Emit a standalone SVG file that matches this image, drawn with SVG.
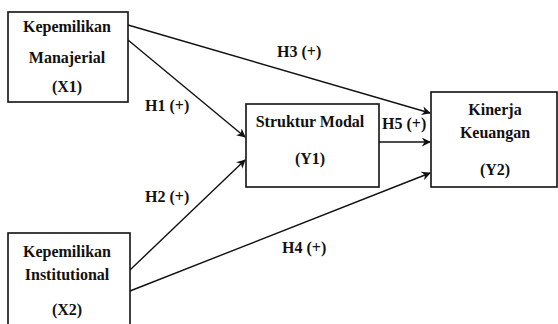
<svg xmlns="http://www.w3.org/2000/svg" width="558" height="324" viewBox="0 0 558 324">
<style>
.box{fill:#fff;stroke:#111;stroke-width:1.6}
.t{font-family:'Liberation Serif',serif;font-weight:700;font-size:16px;fill:#111;text-anchor:middle}
.lbl{font-family:'Liberation Serif',serif;font-weight:700;font-size:16px;fill:#111}
.c{stroke:#111;stroke-width:1.4;fill:none;marker-end:url(#ah)}
</style>
<defs>
<marker id="ah" viewBox="0 0 10 10" refX="9" refY="5" markerWidth="9" markerHeight="9" markerUnits="userSpaceOnUse" orient="auto">
<path d="M0,0 L10,5 L0,10 L3,5 z" fill="#111"/>
</marker>
</defs>
<rect width="558" height="324" fill="#fff"/>
<g id="connectors">
<line class="c" x1="128" y1="25" x2="430" y2="113"/>
<line class="c" x1="128" y1="40" x2="245" y2="137"/>
<line class="c" x1="376" y1="142" x2="430" y2="142"/>
<line class="c" x1="130" y1="270" x2="245" y2="160"/>
<line class="c" x1="130" y1="291" x2="430" y2="173"/>
<text class="lbl" x="277" y="57">H3 (+)</text>
<text class="lbl" x="145" y="111">H1 (+)</text>
<text class="lbl" x="382" y="129">H5 (+)</text>
<text class="lbl" x="145" y="202">H2 (+)</text>
<text class="lbl" x="282" y="253">H4 (+)</text>
</g>
<g id="X1">
<rect class="box" x="8" y="12" width="120" height="90"/>
<text class="t" x="67" y="32">Kepemilikan</text>
<text class="t" x="67" y="63">Manajerial</text>
<text class="t" x="67" y="92">(X1)</text>
</g>
<g id="X2">
<rect class="box" x="8" y="233" width="122" height="100"/>
<text class="t" x="67" y="257">Kepemilikan</text>
<text class="t" x="67" y="280">Institutional</text>
<text class="t" x="67" y="315">(X2)</text>
</g>
<g id="Y1">
<rect class="box" x="246" y="104" width="133" height="83"/>
<text class="t" x="310" y="127">Struktur Modal</text>
<text class="t" x="310" y="164">(Y1)</text>
</g>
<g id="Y2">
<rect class="box" x="431" y="92" width="126" height="95"/>
<text class="t" x="495" y="115">Kinerja</text>
<text class="t" x="495" y="138">Keuangan</text>
<text class="t" x="495" y="175">(Y2)</text>
</g>
</svg>
